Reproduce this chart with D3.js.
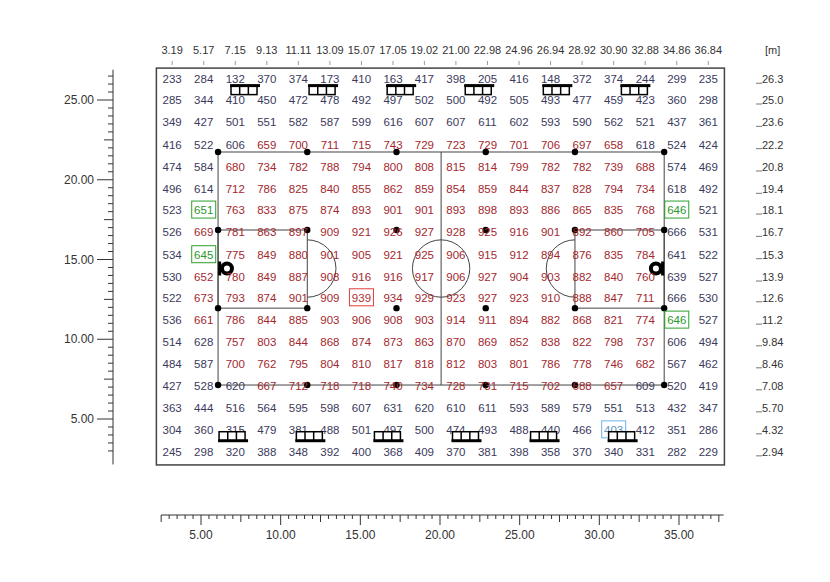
<!DOCTYPE html>
<html><head><meta charset="utf-8">
<script src="https://cdn.jsdelivr.net/npm/d3@7"></script>
<style>body{margin:0;background:#fff}text{font-family:"Liberation Sans",Arial,sans-serif}</style>
</head><body><svg id="c" width="830" height="582"></svg>
<script>
// grid positions [m]
const xs = [3.19,5.17,7.15,9.13,11.11,13.09,15.07,17.05,19.02,21.00,22.98,24.96,26.94,28.92,30.90,32.88,34.86,36.84];
const ys = [26.3,25.0,23.6,22.2,20.8,19.4,18.1,16.7,15.3,13.9,12.6,11.2,9.84,8.46,7.08,5.70,4.32,2.94];
const yLabels = ["26.3","25.0","23.6","22.2","20.8","19.4","18.1","16.7","15.3","13.9","12.6","11.2","9.84","8.46","7.08","5.70","4.32","2.94"];
// illuminance values [lx], one row per y
const values = [
  [233,284,132,370,374,173,410,163,417,398,205,416,148,372,374,244,299,235],
  [285,344,410,450,472,478,492,497,502,500,492,505,493,477,459,423,360,298],
  [349,427,501,551,582,587,599,616,607,607,611,602,593,590,562,521,437,361],
  [416,522,606,659,700,711,715,743,729,723,729,701,706,697,658,618,524,424],
  [474,584,680,734,782,788,794,800,808,815,814,799,782,782,739,688,574,469],
  [496,614,712,786,825,840,855,862,859,854,859,844,837,828,794,734,618,492],
  [523,651,763,833,875,874,893,901,901,893,898,893,886,865,835,768,646,521],
  [526,669,781,863,897,909,921,926,927,928,925,916,901,892,860,705,666,531],
  [534,645,775,849,880,901,905,921,925,906,915,912,894,876,835,784,641,522],
  [530,652,780,849,887,908,916,916,917,906,927,904,903,882,840,760,639,527],
  [522,673,793,874,901,909,939,934,929,923,927,923,910,888,847,711,666,530],
  [536,661,786,844,885,903,906,908,903,914,911,894,882,868,821,774,646,527],
  [514,628,757,803,844,868,874,873,863,870,869,852,838,822,798,737,606,494],
  [484,587,700,762,795,804,810,817,818,812,803,801,786,778,746,682,567,462],
  [427,528,620,667,712,718,718,740,734,728,731,715,702,688,657,609,520,419],
  [363,444,516,564,595,598,607,631,620,610,611,593,589,579,551,513,432,347],
  [304,360,315,479,381,488,501,497,500,474,493,488,440,466,403,412,351,286],
  [245,298,320,388,348,392,400,368,409,370,381,398,358,370,340,331,282,229]
];
// marked cells [row, col, kind]
const marks = [[6,1,"min"],[6,16,"min"],[8,1,"min"],[11,16,"min"],[10,6,"max"],[16,14,"low"]];
const markColor = {min:"#2ca02c", max:"#e0403c", low:"#6cb4e8"};
// luminaires [x, y, side]
const lampsTop = [7.7,12.6,17.5,22.4,27.3,32.2];
const lampsBottom = [6.95,11.8,16.7,21.6,26.5,31.4];
// court [m]
const court = {x0:6.07, x1:34.07, y0:7.13, y1:21.74, keyW:5.6, keyY0:11.95, keyY1:16.85, r:1.8};

const svg = d3.select("#c");
const x = d3.scaleLinear().domain([5,35]).range([201,679]);
const y = d3.scaleLinear().domain([5,25]).range([419,100]);
const ink = "#333";

// frame
svg.append("rect").attr("x",x(2.2)).attr("y",y(27.0)).attr("width",x(37.85)-x(2.2)).attr("height",y(2.12)-y(27.0))
  .attr("fill","none").attr("stroke","#444").attr("stroke-width",1.5);

// court lines
const g = svg.append("g").attr("stroke","#444").attr("fill","none").attr("stroke-width",1);
const cy = (court.y0+court.y1)/2, cx = (court.x0+court.x1)/2;
g.append("rect").attr("x",x(court.x0)).attr("y",y(court.y1)).attr("width",x(court.x1)-x(court.x0)).attr("height",y(court.y0)-y(court.y1));
g.append("line").attr("x1",x(cx)).attr("x2",x(cx)).attr("y1",y(court.y1)).attr("y2",y(court.y0));
const rpx = x(court.r)-x(0);
g.append("circle").attr("cx",x(cx)).attr("cy",y(cy)).attr("r",rpx);
[[court.x0, court.x0+court.keyW, 1],[court.x1-court.keyW, court.x1, -1]].forEach(([a,b,dir])=>{
  g.append("rect").attr("x",x(a)).attr("y",y(court.keyY1)).attr("width",x(b)-x(a)).attr("height",y(court.keyY0)-y(court.keyY1));
  const fx = dir>0 ? x(b) : x(a);
  const arc = d3.arc()({innerRadius:0,outerRadius:rpx,startAngle:dir>0?0:Math.PI,endAngle:dir>0?Math.PI:2*Math.PI});
  g.append("path").attr("d",arc.replace(/L0,0Z?|Z/g,"")).attr("transform",`translate(${fx},${y(cy)})`);
});
// dots
const dotsX = d3.range(6).map(i=>court.x0+i*court.keyW);
const dots = [];
dotsX.forEach(d=>{dots.push([d,court.y0]);dots.push([d,court.y1]);});
[court.x0+2*court.keyW, court.x0+3*court.keyW].forEach(d=>{dots.push([d,court.keyY0]);dots.push([d,court.keyY1]);});
[court.x0, court.x0+court.keyW, court.x1-court.keyW, court.x1].forEach(d=>{dots.push([d,court.keyY0]);dots.push([d,court.keyY1]);});
svg.selectAll(".dot").data(dots).join("circle").attr("cx",d=>x(d[0])).attr("cy",d=>y(d[1])).attr("r",3.2).attr("fill","#000");
// hoops
[[6.63,1],[33.55,-1]].forEach(([hx,dir])=>{
  svg.append("line").attr("x1",x(court.x0+(dir>0?0.1:-0.1)+(dir>0?0:court.x1-court.x0))).attr("x2",x(court.x0+(dir>0?0.1:-0.1)+(dir>0?0:court.x1-court.x0)))
    .attr("y1",y(cy)-7).attr("y2",y(cy)+7).attr("stroke","#000").attr("stroke-width",3);
  svg.append("circle").attr("cx",x(hx)).attr("cy",y(cy)).attr("r",5).attr("fill","none").attr("stroke","#000").attr("stroke-width",4);
});

// luminaires
function lamp(lx, ly, top){
  const w=26,h=9,px=x(lx)-w/2,py=y(ly)-h/2;
  const lg = svg.append("g").attr("stroke","#000").attr("fill","#fff");
  lg.append("rect").attr("x",px).attr("y",py).attr("width",w).attr("height",h).attr("stroke-width",1.5);
  [1,2].forEach(i=>lg.append("line").attr("x1",px+i*w/3).attr("x2",px+i*w/3).attr("y1",py).attr("y2",py+h).attr("stroke-width",1.5));
  const ey = top ? py : py+h;
  lg.append("line").attr("x1",px-1).attr("x2",px+w+3).attr("y1",ey).attr("y2",ey).attr("stroke-width",3);
}

// values
const cells = [];
values.forEach((row,i)=>row.forEach((v,j)=>cells.push({v,i,j})));
const markOf = (i,j)=>marks.find(m=>m[0]===i&&m[1]===j);
function color(c){
  const m = markOf(c.i,c.j);
  if (m) return m[2]==="low" ? "#5a8fc0" : (m[2]==="min" ? "#2a9a2a" : "#b03030");
  return (c.v>=640 && c.j<16) ? "#a3282e" : "#3b3a5c";
}
marks.forEach(m=>{
  svg.append("rect").attr("x",x(xs[m[1]])-12).attr("y",y(ys[m[0]])-9).attr("width",24).attr("height",17)
    .attr("fill","none").attr("stroke",markColor[m[2]]).attr("stroke-width",1);
});
svg.selectAll(".val").data(cells).join("text").attr("x",d=>x(xs[d.j])).attr("y",d=>y(ys[d.i])+4)
  .attr("text-anchor","middle").attr("font-size",11.5).attr("fill",color).text(d=>d.v);
lampsTop.forEach(l=>lamp(l,25.62,true));
lampsBottom.forEach(l=>lamp(l,3.92,false));

// top axis labels
svg.selectAll(".tx").data(xs).join("text").attr("x",d=>x(d)).attr("y",54).attr("text-anchor","middle")
  .attr("font-size",11).attr("fill",ink).text(d=>d.toFixed(2));
svg.selectAll(".tt").data(xs).join("line").attr("x1",d=>x(d)).attr("x2",d=>x(d)).attr("y1",61).attr("y2",65).attr("stroke","#999");
svg.append("text").attr("x",765).attr("y",54).attr("font-size",11).attr("fill",ink).text("[m]");
// right labels
svg.selectAll(".ry").data(ys).join("text").attr("x",762).attr("y",d=>y(d)+4).attr("font-size",11).attr("fill",ink)
  .text((d,i)=>yLabels[i]);
svg.selectAll(".rt").data(ys).join("line").attr("x1",756).attr("x2",762).attr("y1",d=>y(d)+4).attr("y2",d=>y(d)+4).attr("stroke","#777");

// left axis
const lx0 = 113;
svg.append("line").attr("x1",lx0).attr("x2",lx0).attr("y1",y(26.9)).attr("y2",y(2.15)).attr("stroke",ink);
const lt = d3.range(3,27,0.5);
svg.selectAll(".lt").data(lt).join("line").attr("x1",d=>lx0-(d%5===0?16:d%2.5===0?9:5)).attr("x2",lx0)
  .attr("y1",d=>y(d)).attr("y2",d=>y(d)).attr("stroke",ink);
svg.selectAll(".ll").data(d3.range(5,26,5)).join("text").attr("x",lx0-19).attr("y",d=>y(d)+4).attr("text-anchor","end")
  .attr("font-size",12).attr("fill",ink).text(d=>d.toFixed(2));

// bottom axis
const by = 515;
svg.append("line").attr("x1",x(2.5)).attr("x2",x(37.8)).attr("y1",by).attr("y2",by).attr("stroke",ink);
const bt = d3.range(2.5,38,0.5);
svg.selectAll(".bt").data(bt).join("line").attr("x1",d=>x(d)).attr("x2",d=>x(d))
  .attr("y1",d=>by+(d%5===0?10:d%2.5===0?7:4)).attr("y2",by).attr("stroke",ink);
svg.selectAll(".bl").data(d3.range(5,36,5)).join("text").attr("x",d=>x(d)).attr("y",539).attr("text-anchor","middle")
  .attr("font-size",12).attr("fill",ink).text(d=>d.toFixed(2));
</script></body></html>
